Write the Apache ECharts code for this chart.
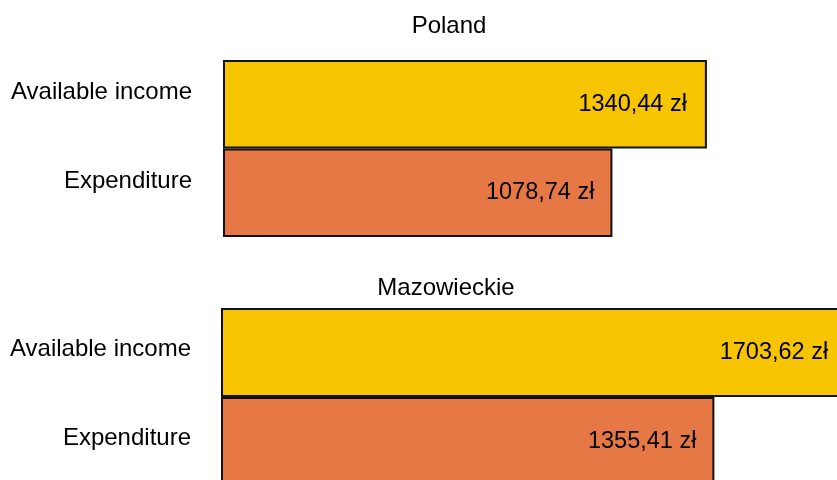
<!DOCTYPE html>
<html>
<head>
<meta charset="utf-8">
<script src="https://cdn.jsdelivr.net/npm/echarts@6/dist/echarts.min.js"></script>
<style>
  html, body { margin: 0; padding: 0; background: #fff; }
  #chart { width: 837px; height: 480px; }
</style>
</head>
<body>
<div id="chart"></div>
<script>
var categories = ['Available income', 'Expenditure'];
var regions = ['Poland', 'Mazowieckie'];
var polandValues = [1340.44, 1078.74];
var mazowieckieValues = [1703.62, 1355.41];
var barColors = ['#F6C400', '#E67845'];

var font = 'Liberation Sans, Arial, sans-serif';

function fmt(v) {
    return v.toFixed(2).replace('.', ',') + ' zł';
}

function barData(values, distances) {
    return values.map(function (v, i) {
        return {
            value: v,
            itemStyle: { color: barColors[i] },
            label: { distance: distances[i] }
        };
    });
}

var chart = echarts.init(document.getElementById('chart'));
chart.setOption({
    animation: false,
    title: [
        { text: regions[0], left: 444, top: 9, textAlign: 'center',
          textStyle: { fontFamily: font, fontSize: 24, fontWeight: 'normal', color: '#000' } },
        { text: regions[1], left: 441, top: 271, textAlign: 'center',
          textStyle: { fontFamily: font, fontSize: 24, fontWeight: 'normal', color: '#000' } }
    ],
    grid: [
        { left: 223, top: 60, width: 722, height: 177, outerBoundsMode: 'none' },
        { left: 221, top: 308, width: 728, height: 178, outerBoundsMode: 'none' }
    ],
    xAxis: [
        { gridIndex: 0, type: 'value', min: 0, max: 2000, show: false },
        { gridIndex: 1, type: 'value', min: 0, max: 2000, show: false }
    ],
    yAxis: [
        { gridIndex: 0, type: 'category', data: categories, inverse: true,
          axisLine: { show: false }, axisTick: { show: false },
          axisLabel: { margin: 31, fontFamily: font, fontSize: 24, color: '#000',
                       verticalAlign: 'bottom', lineHeight: 23 } },
        { gridIndex: 1, type: 'category', data: categories, inverse: true,
          axisLine: { show: false }, axisTick: { show: false },
          axisLabel: { margin: 30, fontFamily: font, fontSize: 24, color: '#000',
                       verticalAlign: 'bottom', lineHeight: 6 } }
    ],
    series: [
        {
            type: 'bar', xAxisIndex: 0, yAxisIndex: 0,
            barCategoryGap: '0%',
            data: barData(polandValues, [20, 18]),
            itemStyle: { borderColor: '#111', borderWidth: 2 },
            label: { show: true, position: 'insideRight', formatter: function (p) { return fmt(p.value); },
                     fontFamily: font, fontSize: 23.5, color: '#000' }
        },
        {
            type: 'bar', xAxisIndex: 1, yAxisIndex: 1,
            barCategoryGap: '0%',
            data: barData(mazowieckieValues, [13, 18]),
            itemStyle: { borderColor: '#111', borderWidth: 2 },
            label: { show: true, position: 'insideRight', formatter: function (p) { return fmt(p.value); },
                     fontFamily: font, fontSize: 23.5, color: '#000' }
        }
    ]
});
</script>
</body>
</html>
